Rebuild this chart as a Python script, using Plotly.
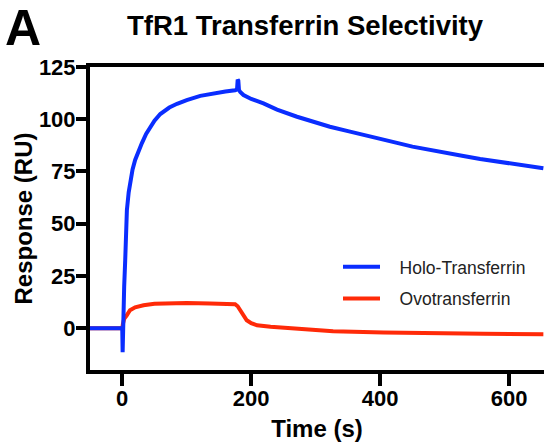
import plotly.graph_objects as go

# Holo-Transferrin (blue) sensorgram
holo_t = [-50, -20, -1, 0, 0.6, 1.5, 3, 4.6, 7.2, 10, 12.4, 16, 20, 25, 30.5, 37, 43.4, 50, 59, 66, 73, 85,
          100, 121, 140, 160, 175, 178, 179, 180, 181, 183, 188, 200, 219, 240, 271, 300, 322, 350, 374,
          400, 426, 450, 477.5, 500, 529, 555, 581, 620, 653]
holo_y = [0, 0, 0, 0, -11.5, 5, 20, 32.6, 56.5, 65, 70.9, 76, 80.5, 85, 88.6, 93, 96.4, 99.3, 102.5, 104.2, 105.6, 107.4,
          109.2, 111.2, 112.4, 113.3, 113.9, 114.2, 119, 118.5, 114, 113, 111.6, 109.7, 107.6, 104.6, 101.2, 98.2, 96.4, 94.3, 92.4,
          90.4, 88.7, 86.9, 85.2, 83.9, 82.4, 81, 79.7, 78, 76.5]

# Ovotransferrin (red) sensorgram
ovo_t = [-50, -1, 0, 1, 3, 7, 12, 20, 33, 50, 74, 100, 136, 175, 179, 183, 188, 193, 200, 209, 230, 250,
         286, 327, 405, 482, 560, 653]
ovo_y = [0, 0, 0, 2, 4.5, 6.2, 8.6, 10, 11, 11.7, 12.1, 12.1, 11.8, 11.5, 10.5, 8.6, 6, 3.8, 2.4, 1.4, 0.7, 0.3,
         -0.6, -1.4, -2.1, -2.2, -2.6, -2.9]

x_ticks = [0, 200, 400, 600]
y_ticks = [0, 25, 50, 75, 100, 125]

FONT = "Liberation Sans, Arial, Helvetica, sans-serif"
BLUE = "#0a2dff"
RED = "#ff2a08"
PAD = "\u00a0\u00a0\u00a0"

fig = go.Figure()
fig.add_trace(go.Scatter(x=ovo_t, y=ovo_y, mode="lines", name=PAD + "Ovotransferrin",
                         line=dict(color=RED, width=4), legendgroup="b", legendrank=2))
fig.add_trace(go.Scatter(x=holo_t, y=holo_y, mode="lines", name=PAD + "Holo-Transferrin",
                         line=dict(color=BLUE, width=4), legendgroup="a", legendrank=1))

fig.update_layout(
    width=544, height=443,
    margin=dict(l=90, r=0, t=67, b=73, autoexpand=False),
    paper_bgcolor="white", plot_bgcolor="white",
    font=dict(family=FONT, color="black"),
    title=dict(text="TfR1 Transferrin Selectivity", x=305 / 544, xanchor="center",
               y=1 - 16 / 443, yanchor="top",
               font=dict(size=27.5, weight="bold", color="black", family=FONT)),
    showlegend=True,
    legend=dict(x=(338 - 90) / 454, xanchor="left", y=0.40, yanchor="top", bgcolor="rgba(0,0,0,0)",
                font=dict(size=17.5, color="#222", family=FONT), tracegroupgap=6,
                traceorder="grouped", itemwidth=37),
)
fig.add_annotation(text="<b>A</b>", xref="paper", yref="paper", x=-0.192, y=1 + (67 - 58) / 303,
                   xanchor="left", yanchor="bottom", showarrow=False,
                   font=dict(size=50, color="black", family=FONT))

fig.update_xaxes(range=[-50, 654], tickvals=x_ticks, ticktext=[str(v) for v in x_ticks],
                 automargin=False,
                 showgrid=False, zeroline=False, showline=True, linecolor="black", linewidth=4,
                 mirror=True, ticks="outside", ticklen=12, tickwidth=4, tickcolor="black",
                 ticklabelstandoff=-6,
                 tickfont=dict(size=22, weight="bold", family=FONT, color="black"),
                 title=dict(text="Time (s)", font=dict(size=24, weight="bold", family=FONT, color="black"),
                            standoff=11))
fig.update_yaxes(range=[-20, 125], tickvals=y_ticks, ticktext=[str(v) for v in y_ticks],
                 automargin=False,
                 showgrid=False, zeroline=False, showline=True, linecolor="black", linewidth=4,
                 ticks="outside", ticklen=10, tickwidth=4, tickcolor="black",
                 ticklabelstandoff=-4,
                 tickfont=dict(size=22, weight="bold", family=FONT, color="black"),
                 title=dict(text="Response (RU)", font=dict(size=24, weight="bold", family=FONT, color="black"),
                            standoff=0))

fig.write_html("out.html", config={"displayModeBar": False},
               post_script="document.body.style.margin='0';document.body.style.padding='0';")
